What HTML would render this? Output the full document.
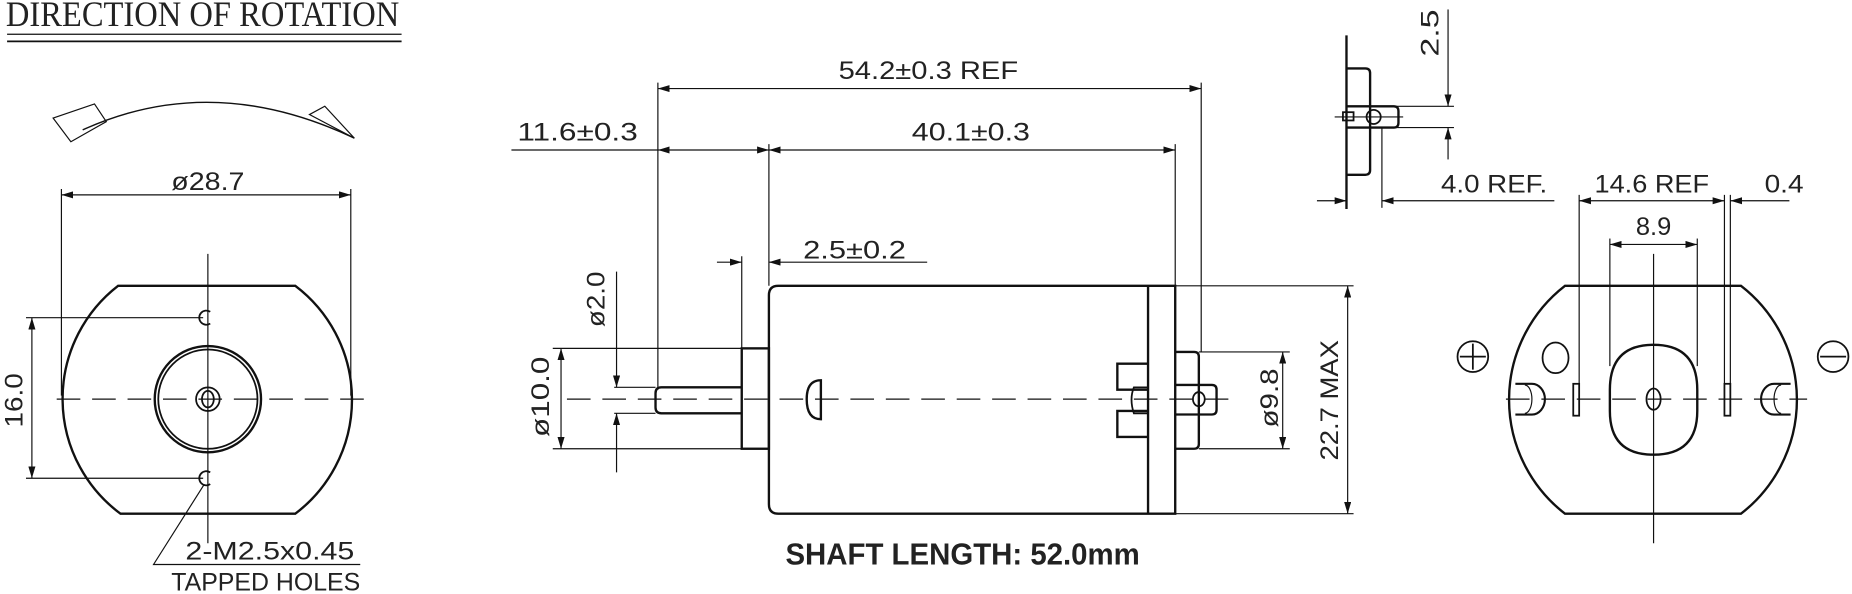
<!DOCTYPE html>
<html><head><meta charset="utf-8"><style>
html,body{margin:0;padding:0;background:#fff;}
svg{display:block}
text{font-family:"Liberation Sans",sans-serif;fill:#222;font-size:21px}
</style></head><body>
<svg width="1852" height="594" viewBox="0 0 1568 503" preserveAspectRatio="none" xmlns="http://www.w3.org/2000/svg">
<defs>
<marker id="a" viewBox="0 0 10 6" refX="10" refY="3" markerWidth="10" markerHeight="6" markerUnits="userSpaceOnUse" orient="auto-start-reverse"><path d="M0,0L10,3L0,6z" fill="#111"/></marker>
</defs>
<g fill="none" stroke="#111" stroke-width="1">
<line x1="6" y1="29" x2="340" y2="29"/><line x1="6" y1="35" x2="340" y2="35" stroke-width="1.5"/>
<path d="M70,110 Q180,60 300,117" stroke-width="1.2"/>
<path d="M45,100 L60,120 L90,103 L80,88 Z"/>
<path d="M262,97 L275,90 L300,117 Z"/>

<path d="M100,242 L250,242 A121,121 0 0 1 250,435 L102,435 A121,121 0 0 1 100,242 Z" stroke-width="2"/>
<circle cx="176" cy="338" r="45" stroke-width="2"/><circle cx="176" cy="338" r="42" stroke-width="1.5"/>
<circle cx="176" cy="338" r="10" stroke-width="1.5"/><ellipse cx="176" cy="338" rx="5" ry="7" stroke-width="1.5"/>
<path d="M178,264 A6,6 0 1 0 178,274" stroke-width="1.5"/>
<path d="M178,400 A6,6 0 1 0 178,410" stroke-width="1.5"/>
<line x1="176" y1="215" x2="176" y2="460"/>
<line x1="48" y1="338" x2="310" y2="338" stroke-dasharray="20,10"/>
<line x1="52" y1="160" x2="52" y2="335"/><line x1="297" y1="160" x2="297" y2="335"/>
<line x1="52" y1="165" x2="297" y2="165" marker-start="url(#a)" marker-end="url(#a)"/>
<line x1="22" y1="269" x2="172" y2="269"/><line x1="22" y1="405" x2="172" y2="405"/>
<line x1="27" y1="269" x2="27" y2="405" marker-start="url(#a)" marker-end="url(#a)"/>
<path d="M173,410 L130,478 L305,478"/>

<path d="M659,242 L995,242 L995,435 L659,435 Q651,435 651,427 L651,250 Q651,242 659,242 Z" stroke-width="2"/>
<line x1="972" y1="242" x2="972" y2="435" stroke-width="2"/>
<rect x="628" y="295" width="23" height="85" stroke-width="2"/>
<path d="M628,328 L560,328 Q555,328 555,333 L555,345 Q555,350 560,350 L628,350" stroke-width="2"/>
<path d="M695,322 L695,355 Q683,355 683,338 Q683,322 695,322 Z" stroke-width="2"/>
<path d="M995,298 L1011,298 Q1015,298 1015,302 L1015,376 Q1015,380 1011,380 L995,380" stroke-width="2"/>
<path d="M972,308 L946,308 L946,330 L972,330 M972,348 L946,348 L946,370 L972,370" stroke-width="2"/>
<path d="M995,326 L1026,326 Q1030,326 1030,330 L1030,347 Q1030,351 1026,351 L995,351" stroke-width="2"/>
<ellipse cx="1015" cy="338" rx="5" ry="6" stroke-width="1.5"/>
<path d="M972,328 L960,328 Q956,338 960,350 L972,350" stroke-width="1.5"/>
<line x1="480" y1="338" x2="1045" y2="338" stroke-dasharray="20,10"/>
<line x1="557" y1="70" x2="557" y2="330"/><line x1="1017" y1="70" x2="1017" y2="298"/>
<line x1="557" y1="75" x2="1017" y2="75" marker-start="url(#a)" marker-end="url(#a)"/>
<line x1="433" y1="127" x2="557" y2="127"/>
<line x1="557" y1="127" x2="651" y2="127" marker-start="url(#a)" marker-end="url(#a)"/>
<line x1="651" y1="127" x2="995" y2="127" marker-start="url(#a)" marker-end="url(#a)"/>
<line x1="651" y1="122" x2="651" y2="242"/><line x1="995" y1="122" x2="995" y2="242"/>
<line x1="628" y1="217" x2="628" y2="295"/>
<line x1="607" y1="222" x2="628" y2="222" marker-end="url(#a)"/>
<line x1="785" y1="222" x2="651" y2="222" marker-end="url(#a)"/>
<line x1="520" y1="328" x2="555" y2="328"/><line x1="520" y1="350" x2="555" y2="350"/>
<line x1="522" y1="230" x2="522" y2="328" marker-end="url(#a)"/>
<line x1="522" y1="400" x2="522" y2="350" marker-end="url(#a)"/>
<line x1="468" y1="295" x2="628" y2="295"/><line x1="468" y1="380" x2="628" y2="380"/>
<line x1="475" y1="295" x2="475" y2="380" marker-start="url(#a)" marker-end="url(#a)"/>
<line x1="1015" y1="298" x2="1092" y2="298"/><line x1="1015" y1="380" x2="1092" y2="380"/>
<line x1="1086" y1="298" x2="1086" y2="380" marker-start="url(#a)" marker-end="url(#a)"/>
<line x1="995" y1="242" x2="1146" y2="242"/><line x1="995" y1="435" x2="1146" y2="435"/>
<line x1="1141" y1="242" x2="1141" y2="435" marker-start="url(#a)" marker-end="url(#a)"/>

<line x1="1140" y1="30" x2="1140" y2="177" stroke-width="2"/>
<path d="M1140,58 L1156,58 Q1160,58 1160,62 L1160,144 Q1160,148 1156,148 L1140,148" stroke-width="2"/>
<path d="M1140,90 L1180,90 Q1184,90 1184,94 L1184,104 Q1184,108 1180,108 L1140,108" stroke-width="2"/>
<circle cx="1163" cy="99" r="6" stroke-width="1.5"/>
<rect x="1137" y="95" width="9" height="7" stroke-width="1.5"/>
<line x1="1130" y1="99" x2="1188" y2="99"/>
<line x1="1170" y1="90" x2="1231" y2="90"/><line x1="1170" y1="108" x2="1231" y2="108"/>
<line x1="1226" y1="8" x2="1226" y2="90" marker-end="url(#a)"/>
<line x1="1226" y1="135" x2="1226" y2="108" marker-end="url(#a)"/>
<line x1="1170" y1="108" x2="1170" y2="176"/>
<line x1="1115" y1="170" x2="1140" y2="170" marker-end="url(#a)"/>
<line x1="1316" y1="170" x2="1170" y2="170" marker-end="url(#a)"/>

<path d="M1325,242 L1474,242 A122,122 0 0 1 1474,435 L1325,435 A122,122 0 0 1 1325,242 Z" stroke-width="2"/>
<path d="M1363,330 Q1363,292 1400,292 Q1437,292 1437,330 L1437,348 Q1437,385 1400,385 Q1363,385 1363,348 Z" stroke-width="2"/>
<ellipse cx="1400" cy="338" rx="6" ry="9" stroke-width="1.5"/>
<rect x="1332" y="325" width="5" height="27" stroke-width="1.5"/>
<rect x="1460" y="325" width="5" height="27" stroke-width="1.5"/>
<path d="M1283,325 L1297,325 A11,13 0 0 1 1297,351 L1283,351" stroke-width="1.8"/>
<path d="M1291,326 A6,12 0 0 1 1291,350"/>
<path d="M1516,325 L1502,325 A11,13 0 0 0 1502,351 L1516,351" stroke-width="1.8"/>
<path d="M1508,326 A6,12 0 0 0 1508,350"/>
<ellipse cx="1317" cy="303" rx="11" ry="13" stroke-width="1.5"/>
<circle cx="1247" cy="302" r="13" stroke-width="1.5"/><path d="M1236,302 L1258,302 M1247,291 L1247,313" stroke-width="1.5"/>
<circle cx="1552" cy="302" r="13" stroke-width="1.5"/><path d="M1541,302 L1563,302" stroke-width="1.5"/>
<line x1="1400" y1="215" x2="1400" y2="460"/>
<line x1="1275" y1="338" x2="1530" y2="338" stroke-dasharray="20,10"/>
<line x1="1337" y1="165" x2="1337" y2="325"/><line x1="1460" y1="165" x2="1460" y2="325"/><line x1="1465" y1="165" x2="1465" y2="325"/>
<line x1="1337" y1="170" x2="1460" y2="170" marker-start="url(#a)" marker-end="url(#a)"/>
<line x1="1515" y1="170" x2="1465" y2="170" marker-end="url(#a)"/>
<line x1="1363" y1="202" x2="1363" y2="310"/><line x1="1437" y1="202" x2="1437" y2="310"/>
<line x1="1363" y1="207" x2="1437" y2="207" marker-start="url(#a)" marker-end="url(#a)"/>
</g>

<text x="5" y="22" textLength="333" lengthAdjust="spacingAndGlyphs" style="font-family:'Liberation Serif',serif;font-size:30px">DIRECTION OF ROTATION</text>
<text x="145" y="161" textLength="62" lengthAdjust="spacingAndGlyphs">ø28.7</text>
<text x="0" y="0" transform="translate(19,362) rotate(-90)" textLength="46" lengthAdjust="spacingAndGlyphs">16.0</text>
<text x="157" y="474" textLength="143" lengthAdjust="spacingAndGlyphs">2-M2.5x0.45</text>
<text x="145" y="500" textLength="160" lengthAdjust="spacingAndGlyphs">TAPPED HOLES</text>
<text x="710" y="67" textLength="152" lengthAdjust="spacingAndGlyphs">54.2±0.3 REF</text>
<text x="438" y="119" textLength="102" lengthAdjust="spacingAndGlyphs">11.6±0.3</text>
<text x="772" y="119" textLength="100" lengthAdjust="spacingAndGlyphs">40.1±0.3</text>
<text x="680" y="219" textLength="87" lengthAdjust="spacingAndGlyphs">2.5±0.2</text>
<text x="0" y="0" transform="translate(512,277) rotate(-90)" textLength="47" lengthAdjust="spacingAndGlyphs">ø2.0</text>
<text x="0" y="0" transform="translate(465,370) rotate(-90)" textLength="68" lengthAdjust="spacingAndGlyphs">ø10.0</text>
<text x="0" y="0" transform="translate(1082,362) rotate(-90)" textLength="50" lengthAdjust="spacingAndGlyphs">ø9.8</text>
<text x="0" y="0" transform="translate(1133,390) rotate(-90)" textLength="102" lengthAdjust="spacingAndGlyphs">22.7 MAX</text>
<text x="665" y="478" textLength="300" lengthAdjust="spacingAndGlyphs" style="font-weight:bold;font-size:26px">SHAFT LENGTH: 52.0mm</text>
<text x="0" y="0" transform="translate(1218,48) rotate(-90)" textLength="40" lengthAdjust="spacingAndGlyphs">2.5</text>
<text x="1220" y="163" textLength="90" lengthAdjust="spacingAndGlyphs">4.0 REF.</text>
<text x="1350" y="163" textLength="97" lengthAdjust="spacingAndGlyphs">14.6 REF</text>
<text x="1385" y="199" textLength="30" lengthAdjust="spacingAndGlyphs">8.9</text>
<text x="1494" y="163" textLength="33" lengthAdjust="spacingAndGlyphs">0.4</text>
</svg>
</body></html>
